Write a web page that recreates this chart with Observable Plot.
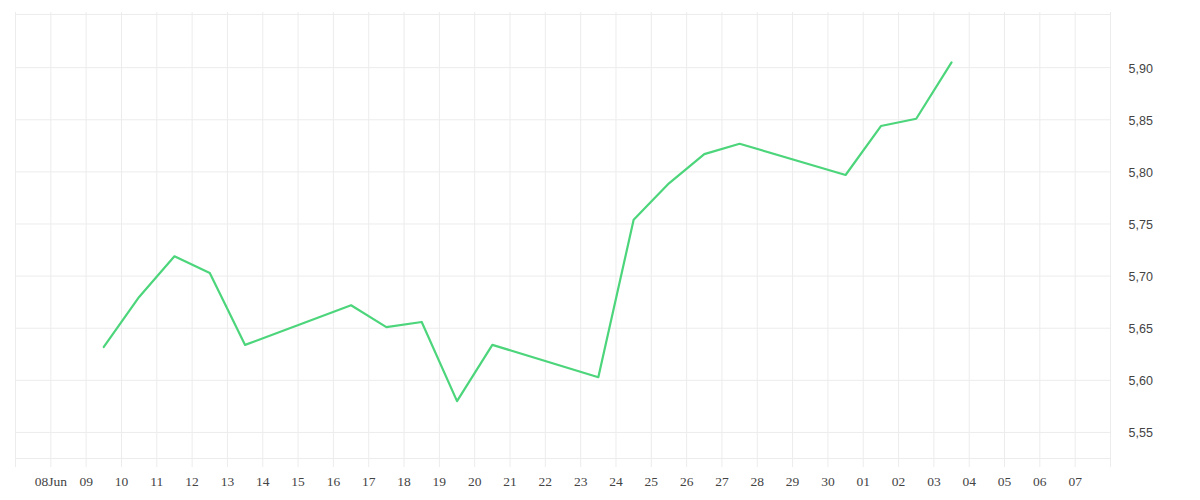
<!DOCTYPE html>
<html><head><meta charset="utf-8">
<script src="https://cdn.jsdelivr.net/npm/d3@7"></script>
<script src="https://cdn.jsdelivr.net/npm/@observablehq/plot@0.6"></script>
<style>body{margin:0;background:#fff}#chart svg{display:block}</style>
</head><body><div id="chart"></div>
<script>
const dates = ["2025-06-09","2025-06-10","2025-06-11","2025-06-12","2025-06-13","2025-06-16","2025-06-17","2025-06-18","2025-06-19","2025-06-20","2025-06-23","2025-06-24","2025-06-25","2025-06-26","2025-06-27","2025-06-30","2025-07-01","2025-07-02","2025-07-03"];
const values = [5.632,5.680,5.719,5.703,5.634,5.672,5.651,5.656,5.580,5.634,5.603,5.754,5.789,5.817,5.827,5.797,5.844,5.851,5.905];
const yTicks = [5.55,5.60,5.65,5.70,5.75,5.80,5.85,5.90];
const yDomain = [5.525, 5.951];
const xTickLabels = ["08Jun","09","10","11","12","13","14","15","16","17","18","19","20","21","22","23","24","25","26","27","28","29","30","01","02","03","04","05","06","07"];
const xStart = "2025-06-07", xEnd = "2025-07-08";

const data = dates.map((d, i) => ({date: new Date(d + "T12:00:00Z"), value: values[i]}));
const x0 = new Date(xStart + "T00:00:00Z"), x1 = new Date(xEnd + "T00:00:00Z");
const gridDays = d3.utcDay.range(x0, d3.utcDay.offset(x1, 1));
const tickDays = d3.utcDay.range(d3.utcDay.offset(x0, 1), x1);
const labelOf = new Map(tickDays.map((d, i) => [+d, xTickLabels[i]]));

const chart = Plot.plot({
  width: 1200, height: 500,
  marginLeft: 15, marginRight: 90, marginTop: 14, marginBottom: 42,
  x: {type: "utc", domain: [x0, x1]},
  y: {domain: yDomain},
  style: {background: "#fff"},
  marks: [
    Plot.ruleX(gridDays, {stroke: "#ececec", strokeWidth: 1, insetTop: -2, insetBottom: -9}),
    Plot.ruleY([...yTicks, ...yDomain], {stroke: "#ececec", strokeWidth: 1}),
    Plot.line(data, {x: "date", y: "value", stroke: "#4cd57b", strokeWidth: 2.2, curve: "linear"}),
    Plot.axisX(tickDays, {tickSize: 0, tickPadding: 18, tickFormat: d => labelOf.get(+d), fontFamily: "Liberation Serif", fontSize: 13.5, color: "#444", label: null}),
    Plot.axisY(yTicks, {anchor: "right", tickSize: 0, tickPadding: 18, textAnchor: "start", dy: 1, tickFormat: d => d.toFixed(2).replace(".", ","), fontFamily: "Liberation Sans", fontSize: 12.5, color: "#444", label: null})
  ]
});
document.getElementById("chart").appendChild(chart);
</script>
</body></html>
